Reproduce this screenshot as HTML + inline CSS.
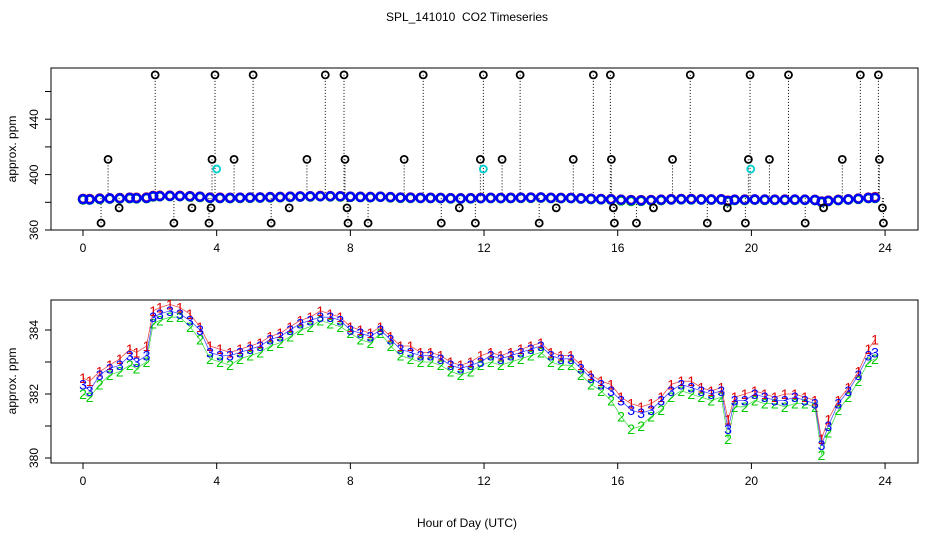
<!DOCTYPE html>
<html><head><meta charset="utf-8"><style>
body{margin:0;background:#fff}
svg{display:block;font-family:"Liberation Sans",sans-serif}
</style></head><body>
<svg id="chart" width="936" height="540" viewBox="0 0 936 540">
<text x="467" y="21" text-anchor="middle" font-size="12" style="white-space:pre">SPL_141010  CO2 Timeseries</text>
<rect x="51" y="68" width="867" height="162" fill="none" stroke="#000"/>
<rect x="51" y="300" width="867" height="163" fill="none" stroke="#000"/>
<text transform="translate(16,149) rotate(-90)" text-anchor="middle" font-size="12">approx. ppm</text>
<text transform="translate(16,381) rotate(-90)" text-anchor="middle" font-size="12">approx. ppm</text>
<text x="467" y="527" text-anchor="middle" font-size="12">Hour of Day (UTC)</text>
<g id="gtop"></g><g id="gbot"></g>
</svg>
<script>
const xTicks=[0,4,8,12,16,20,24];
const topYTicks=[360,380,400,420,440,460];
const topYLabels=[360,400,440];
const botYTicks=[380,381,382,383,384];
const botYLabels=[380,382,384];
const hours=[0,0.2,0.5,0.8,1.1,1.4,1.6,1.9,2.1,2.3,2.6,2.9,3.2,3.5,3.8,4.1,4.4,4.7,5.0,5.3,5.6,5.9,6.2,6.5,6.8,7.1,7.4,7.7,8.0,8.3,8.6,8.9,9.2,9.5,9.8,10.1,10.4,10.7,11.0,11.3,11.6,11.9,12.2,12.5,12.8,13.1,13.4,13.7,14.0,14.3,14.6,14.9,15.2,15.5,15.8,16.1,16.4,16.7,17.0,17.3,17.6,17.9,18.2,18.5,18.8,19.1,19.3,19.5,19.8,20.1,20.4,20.7,21.0,21.3,21.6,21.9,22.1,22.3,22.6,22.9,23.2,23.5,23.7];
const s3=[382.3,382.1,382.6,382.8,382.9,383.2,383.0,383.2,384.4,384.5,384.6,384.5,384.3,384.0,383.3,383.2,383.2,383.3,383.4,383.5,383.7,383.8,384.0,384.2,384.3,384.4,384.4,384.3,384.0,383.9,383.8,384.0,383.7,383.4,383.3,383.2,383.2,383.1,382.9,382.8,382.9,383.0,383.2,383.1,383.2,383.3,383.4,383.5,383.2,383.1,383.1,382.8,382.5,382.3,382.1,381.8,381.5,381.4,381.5,381.8,382.1,382.3,382.2,382.1,382.0,382.1,380.9,381.8,381.8,382.0,381.9,381.8,381.8,381.9,381.8,381.7,380.4,381.0,381.7,382.1,382.6,383.2,383.3];
const s1=[382.5,382.4,382.7,382.9,383.1,383.4,383.3,383.5,384.6,384.7,384.8,384.7,384.5,384.1,383.5,383.4,383.3,383.4,383.5,383.6,383.8,383.9,384.1,384.3,384.4,384.6,384.5,384.4,384.1,384.0,383.9,384.1,383.8,383.5,383.5,383.3,383.3,383.2,383.0,382.9,383.0,383.2,383.3,383.2,383.3,383.4,383.5,383.6,383.3,383.2,383.2,382.9,382.6,382.4,382.3,381.9,381.7,381.6,381.7,381.9,382.3,382.4,382.4,382.2,382.1,382.2,381.2,381.9,382.0,382.1,382.0,381.9,382.0,382.0,381.9,381.8,380.6,381.2,381.8,382.2,382.7,383.4,383.7];
const s2=[382.0,381.9,382.3,382.6,382.7,382.9,382.8,383.0,384.2,384.3,384.4,384.4,384.1,383.7,383.1,383.0,382.9,383.1,383.2,383.3,383.5,383.6,383.8,384.0,384.1,384.3,384.2,384.1,383.9,383.7,383.6,383.9,383.5,383.2,383.1,383.0,383.0,382.9,382.7,382.6,382.7,382.9,383.0,382.9,383.0,383.1,383.2,383.3,383.0,382.9,382.9,382.6,382.3,382.1,381.8,381.3,380.9,381.0,381.3,381.5,381.9,382.1,382.0,381.9,381.8,381.9,380.6,381.6,381.6,381.8,381.7,381.7,381.6,381.7,381.7,381.6,380.1,380.8,381.5,381.9,382.4,383.0,383.1];
const outHours=[2.16,3.95,5.09,7.25,7.81,10.18,11.98,13.08,15.27,15.78,18.17,19.96,21.11,23.26,23.80,0.75,3.86,4.52,6.7,7.84,9.61,11.89,12.54,14.67,15.81,17.64,19.91,20.54,22.72,23.83,1.08,3.26,3.83,6.17,7.9,11.26,14.16,15.87,17.07,19.28,22.16,23.92,0.54,2.72,3.77,5.63,7.93,8.53,10.72,11.74,13.65,15.9,16.56,18.68,19.82,21.61,23.95];
const outVals=[472,472,472,472,472,472,472,472,472,472,472,472,472,472,472,411,411,411,411,411,411,411,411,411,411,411,411,411,411,411,376,376,376,376,376,376,376,376,376,376,376,376,365,365,365,365,365,365,365,365,365,365,365,365,365,365,365];
const cyanHours=[4.0,11.98,19.98];
const cyanVals=[404,404,404];

const NS='http://www.w3.org/2000/svg';
const xs=h=>83+h*33.42;
const yTop=v=>230-(v-360)*1.385;
const yBot=v=>458-(v-380)*32;
function mk(tag,attrs,parent){const e=document.createElementNS(NS,tag);for(const k in attrs)e.setAttribute(k,attrs[k]);parent.appendChild(e);return e;}
const gTop=document.getElementById('gtop'),gBot=document.getElementById('gbot');

function axes(g,yb,yfn,yt,yl,prefix){
  xTicks.forEach(t=>{
    const l=mk('line',{x1:xs(t),x2:xs(t),y1:yb,y2:yb+6,stroke:'#000'},g);
    
    
    const tx=mk('text',{x:xs(t),y:yb+22,'text-anchor':'middle','font-size':'12'},g);
    tx.textContent=t;
    
    
  });
  yt.forEach(t=>{
    const l=mk('line',{x1:45,x2:51,y1:yfn(t),y2:yfn(t),stroke:'#000'},g);
    
    
  });
  yl.forEach(t=>{
    const tx=mk('text',{transform:`translate(38,${yfn(t)}) rotate(-90)`,'text-anchor':'middle','font-size':'12'},g);
    tx.textContent=t;
    
    
  });
}
axes(gTop,230,yTop,topYTicks,topYLabels,'top');
axes(gBot,463,yBot,botYTicks,botYLabels,'bottom');

outHours.forEach((h,i)=>{
  const l=mk('line',{x1:xs(h),x2:xs(h),y1:yTop(outVals[i]),y2:yTop(383),stroke:'#000','stroke-dasharray':'1,2'},gTop);
  
  
});
[[s1,'#e00000'],[s2,'#00cc00'],[s3,'#0000ff']].forEach(([s,c])=>{
  hours.forEach((h,i)=>{
    const ci=mk('circle',{cx:xs(h),cy:yTop(s[i]),r:4,fill:'none',stroke:c,'stroke-width':'2.5'},gTop);
    
    
  });
});
outHours.forEach((h,i)=>{
  const ci=mk('circle',{cx:xs(h),cy:yTop(outVals[i]),r:3.5,fill:'none',stroke:'#000','stroke-width':'1.8'},gTop);
  
  
});
cyanHours.forEach((h,i)=>{
  const ci=mk('circle',{cx:xs(h),cy:yTop(cyanVals[i]),r:3.5,fill:'none',stroke:'#00d0d0','stroke-width':'1.8'},gTop);
  
  
});

[[s2,'#00cc00','2'],[s1,'#e00000','1'],[s3,'#0000ff','3']].forEach(([s,c,g])=>{
  const p=mk('polyline',{points:hours.map((h,i)=>xs(h)+','+yBot(s[i])).join(' '),fill:'none',stroke:c,'stroke-width':'0.8','stroke-opacity':'0.7'},gBot);
  
  
  hours.forEach((h,i)=>{
    const t=mk('text',{x:xs(h),y:yBot(s[i])+5,'text-anchor':'middle','font-size':'14',fill:c},gBot);
    t.textContent=g;
    
    
  });
});
</script>
</body></html>
